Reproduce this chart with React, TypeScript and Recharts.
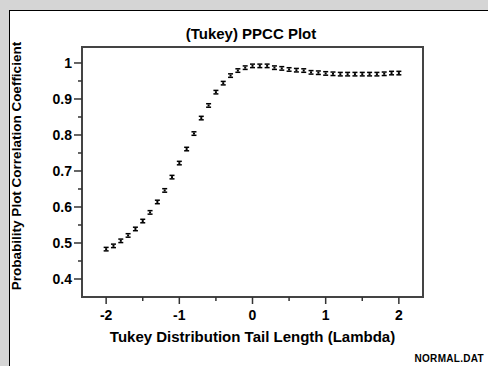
import React from "react";
import {
  ScatterChart,
  Scatter,
  XAxis,
  YAxis,
  ReferenceArea,
  Label,
} from "recharts";

// Tukey lambda values and their probability plot correlation coefficients
const lambdas: number[] = [
  -2.0, -1.9, -1.8, -1.7, -1.6, -1.5, -1.4, -1.3, -1.2, -1.1,
  -1.0, -0.9, -0.8, -0.7, -0.6, -0.5, -0.4, -0.3, -0.2, -0.1,
  0.0, 0.1, 0.2, 0.3, 0.4, 0.5, 0.6, 0.7, 0.8, 0.9,
  1.0, 1.1, 1.2, 1.3, 1.4, 1.5, 1.6, 1.7, 1.8, 1.9, 2.0,
];

const ppcc: number[] = [
  0.483, 0.492, 0.506, 0.521, 0.539, 0.561, 0.585, 0.614, 0.646, 0.683,
  0.722, 0.761, 0.804, 0.847, 0.882, 0.919, 0.944, 0.965, 0.979, 0.987,
  0.992, 0.992, 0.992, 0.987, 0.985, 0.982, 0.980, 0.979, 0.974, 0.973,
  0.971, 0.970, 0.969, 0.969, 0.969, 0.969, 0.969, 0.969, 0.970, 0.972, 0.972,
];

const xMajorTicks: number[] = [-2, -1, 0, 1, 2];
const xMinorTicks: number[] = [-1.5, -0.5, 0.5, 1.5];
const yMajorTicks: number[] = [0.4, 0.5, 0.6, 0.7, 0.8, 0.9, 1];
const yMinorTicks: number[] = [0.45, 0.55, 0.65, 0.75, 0.85, 0.95];

const titleText = "(Tukey) PPCC Plot";
const xLabelText = "Tukey Distribution Tail Length (Lambda)";
const yLabelText = "Probability Plot Correlation Coefficient";
const footerText = "NORMAL.DAT";

const X_DOMAIN: [number, number] = [-2.33, 2.33];
const Y_DOMAIN: [number, number] = [0.35, 1.0444];

const FONT = "'Liberation Sans', Arial, Helvetica, sans-serif";

const data = lambdas.map((l, i) => ({ lambda: l, r: ppcc[i] }));

const fmtY = (v: number) => (v === 1 ? "1" : v.toFixed(1));

const PLOT_LEFT = 82;
const PLOT_BOTTOM = 297;

const XTick = (props: any) => {
  const { x, payload } = props;
  const y = PLOT_BOTTOM;
  const major = xMajorTicks.some((t) => Math.abs(t - payload.value) < 1e-9);
  return (
    <g>
      <line x1={x} y1={y} x2={x} y2={y + (major ? 7 : 4)} stroke="#333" strokeWidth={1.5} />
      {major && (
        <text
          x={x}
          y={y + 23}
          textAnchor="middle"
          fontFamily={FONT}
          fontWeight="bold"
          fontSize={14}
          fill="#000"
        >
          {payload.value}
        </text>
      )}
    </g>
  );
};

const YTick = (props: any) => {
  const { y, payload } = props;
  const x = PLOT_LEFT;
  const major = yMajorTicks.some((t) => Math.abs(t - payload.value) < 1e-9);
  return (
    <g>
      <line x1={x} y1={y} x2={x - (major ? 8 : 4)} y2={y} stroke="#333" strokeWidth={1.5} />
      {major && (
        <text
          x={x - 10}
          y={y + 5}
          textAnchor="end"
          fontFamily={FONT}
          fontWeight="bold"
          fontSize={14}
          fill="#000"
        >
          {fmtY(payload.value)}
        </text>
      )}
    </g>
  );
};

// Small bold "x" glyph used as the plotting symbol
const Glyph = (props: any) => {
  const { cx, cy } = props;
  return (
    <g fill="#000">
      <rect x={cx - 2.5} y={cy - 2.5} width={5} height={1.5} />
      <rect x={cx - 2.5} y={cy + 1} width={5} height={1.5} />
      <rect x={cx - 1} y={cy - 1} width={2} height={2} />
    </g>
  );
};

export default function App() {
  return (
    <div
      style={{
        position: "fixed",
        left: 0,
        top: 0,
        width: 488,
        height: 366,
        overflow: "hidden",
        background: "#d5d5d5",
      }}
    >
      <div
        style={{
          position: "absolute",
          left: 9,
          top: 10,
          width: 500,
          height: 400,
          background: "#fff",
          borderLeft: "1.5px solid #000",
          borderTop: "1.5px solid #000",
        }}
      />
      <div style={{ position: "absolute", left: 0, top: 0 }}>
        <ScatterChart
          width={488}
          height={366}
          margin={{ top: 47, right: 65, bottom: 49, left: 62 }}
        >
          <XAxis
            type="number"
            dataKey="lambda"
            domain={X_DOMAIN}
            allowDataOverflow
            ticks={[...xMajorTicks, ...xMinorTicks]}
            interval={0}
            tickSize={0}
            tickMargin={0}
            axisLine={false}
            tickLine={false}
            tick={<XTick />}
            height={20}
          >
            <Label
              value={xLabelText}
              position="bottom"
              offset={14}
              fontFamily={FONT}
              fontWeight="bold"
              fontSize={15}
              fill="#000"
            />
          </XAxis>
          <YAxis
            type="number"
            dataKey="r"
            domain={Y_DOMAIN}
            allowDataOverflow
            ticks={[...yMajorTicks, ...yMinorTicks]}
            interval={0}
            tickSize={0}
            tickMargin={0}
            axisLine={false}
            tickLine={false}
            tick={<YTick />}
            width={20}
          />
          <ReferenceArea
            x1={X_DOMAIN[0]}
            x2={X_DOMAIN[1]}
            y1={Y_DOMAIN[0]}
            y2={Y_DOMAIN[1]}
            fill="none"
            stroke="#444"
            strokeWidth={2}
            ifOverflow="visible"
          />
          <Scatter data={data} shape={<Glyph />} isAnimationActive={false} />
          <text
            x={251}
            y={39}
            textAnchor="middle"
            fontFamily={FONT}
            fontWeight="bold"
            fontSize={15}
            fill="#000"
          >
            {titleText}
          </text>
          <text
            x={21}
            y={166}
            textAnchor="middle"
            transform="rotate(-90 21 166)"
            fontFamily={FONT}
            fontWeight="bold"
            fontSize={13.5}
            fill="#000"
          >
            {yLabelText}
          </text>
          <text
            x={484}
            y={362}
            textAnchor="end"
            fontFamily={FONT}
            fontWeight="bold"
            fontSize={10}
            letterSpacing={0.3}
            fill="#000"
          >
            {footerText}
          </text>
        </ScatterChart>
      </div>
    </div>
  );
}
